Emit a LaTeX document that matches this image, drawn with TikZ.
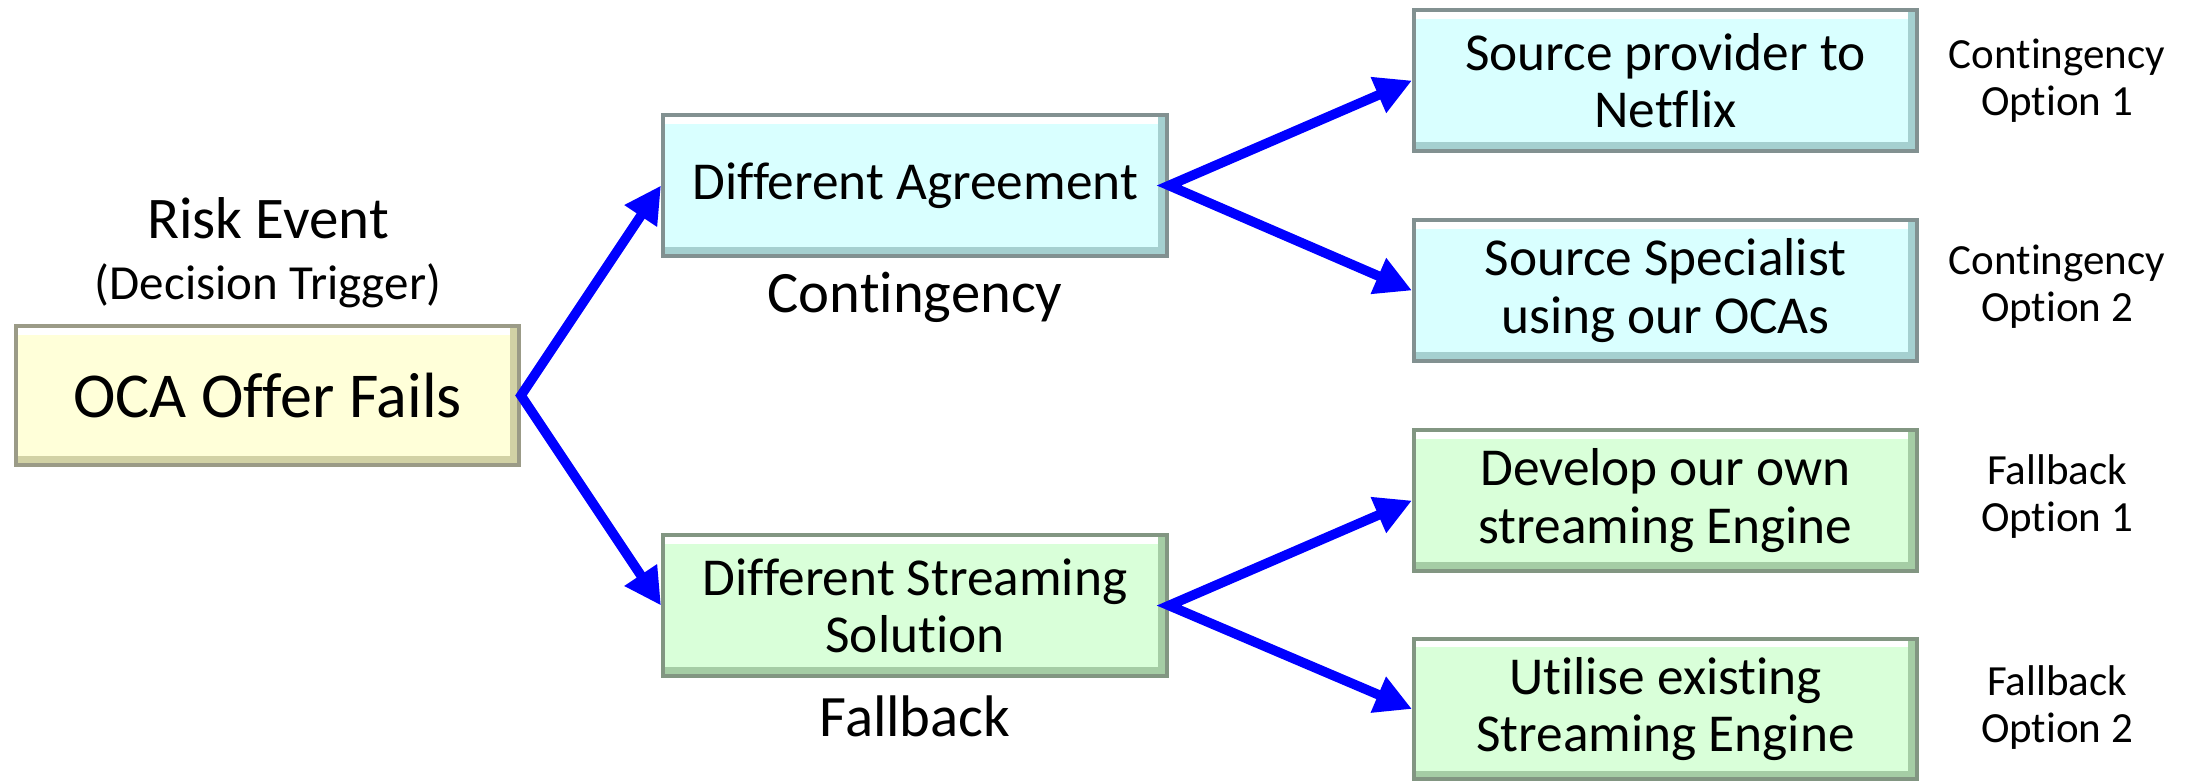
\documentclass[tikz,border=0pt]{standalone}
\usepackage{fontspec}
\setmainfont{Carlito}[Ligatures=NoCommon]
\usetikzlibrary{arrows.meta,calc}
\definecolor{cyanfill}{RGB}{217,255,255}
\definecolor{greenfill}{RGB}{217,255,217}
\definecolor{yellowfill}{RGB}{255,255,217}
\definecolor{cyanborder}{RGB}{130,145,145}
\definecolor{greenborder}{RGB}{130,150,130}
\definecolor{yellowborder}{RGB}{155,155,135}
\definecolor{cyanband}{RGB}{165,208,208}
\definecolor{greenband}{RGB}{165,205,165}
\definecolor{yellowband}{RGB}{210,210,165}
\definecolor{arrowblue}{RGB}{0,0,255}
\tikzset{
  bevel/.style n args={3}{draw=#2, line width=1.3pt, fill=#1, inner sep=0pt, align=center,
    path picture={
      \fill[white] ($(path picture bounding box.north west)+(0.65pt,-0.65pt)$) rectangle ($(path picture bounding box.north east)+(-0.65pt,-2.6pt)$);
      \fill[#3] ($(path picture bounding box.south west)+(0.65pt,0.65pt)$) rectangle ($(path picture bounding box.south east)+(-0.65pt,2.6pt)$);
      \fill[#3] ($(path picture bounding box.south east)+(-0.65pt,0.65pt)$) rectangle ($(path picture bounding box.north east)+(-2.6pt,-0.65pt)$);
      \fill[#2!60!black] ($(path picture bounding box.south east)+(-0.65pt,0pt)$) rectangle ($(path picture bounding box.north east)+(0.65pt,0pt)$);
    }},
  cbox/.style={bevel={cyanfill}{cyanborder}{cyanband}},
  gbox/.style={bevel={greenfill}{greenborder}{greenband}},
  ybox/.style={bevel={yellowfill}{yellowborder}{yellowband}},
  midbox/.style={minimum width=151.1pt, minimum height=42.2pt, font=\fontsize{16}{17.2}\selectfont},
  rbox/.style={minimum width=150.8pt, minimum height=42.2pt, font=\fontsize{16}{17.2}\selectfont},
  optlabel/.style={align=center, font=\fontsize{12.9}{14.1}\selectfont},
  biglabel/.style={font=\fontsize{17.6}{20}\selectfont},
  arr/.style={draw=arrowblue, line width=2.9pt,
    {Triangle[length=11pt,width=11pt]}-{Triangle[length=11pt,width=11pt]}},
}
\begin{document}
\begin{tikzpicture}[x=0.3pt,y=-0.3pt]
\useasboundingbox (0,0) rectangle (2188,780);
\fill[white] (0,0) rectangle (2188,780);

% nodes
\node[ybox, minimum width=150.8pt, minimum height=41.6pt, font=\fontsize{19.2}{22}\selectfont] (oca) at (267.5,395.5) {OCA Offer Fails};
\node[font=\fontsize{17.7}{20}\selectfont] (risk) at (268,218) {Risk Event};
\node[font=\fontsize{14.7}{16}\selectfont] (trig) at (268,286) {(Decision Trigger)};

\node[cbox, midbox] (da) at (915,185.5) {Different Agreement};
\node[biglabel] (cont) at (915,297) {Contingency};
\node[gbox, midbox] (dss) at (915,605.5) {Different Streaming\\Solution};
\node[biglabel] (fall) at (915,716) {Fallback};

\node[cbox, rbox] (r1) at (1665.5,80.5) {Source provider to\\Netflix};
\node[cbox, rbox] (r2) at (1665.5,290.5) {Source Specialist\\using our OCAs};
\node[gbox, rbox] (r3) at (1665.5,500.5) {Develop our own\\streaming Engine};
\node[gbox, rbox] (r4) at (1665.5,709) {Utilise existing\\Streaming Engine};

\node[optlabel] (l1) at (2057,81) {Contingency\\Option 1};
\node[optlabel] (l2) at (2057,287) {Contingency\\Option 2};
\node[optlabel] (l3) at (2057,497) {Fallback\\Option 1};
\node[optlabel] (l4) at (2057,708) {Fallback\\Option 2};

% connectors
\draw[arr] (da.west) -- (oca.east) -- (dss.west);
\draw[arr] (r1.west) -- (da.east) -- (r2.west);
\draw[arr] (r3.west) -- (dss.east) -- (r4.west);
\end{tikzpicture}
\end{document}
